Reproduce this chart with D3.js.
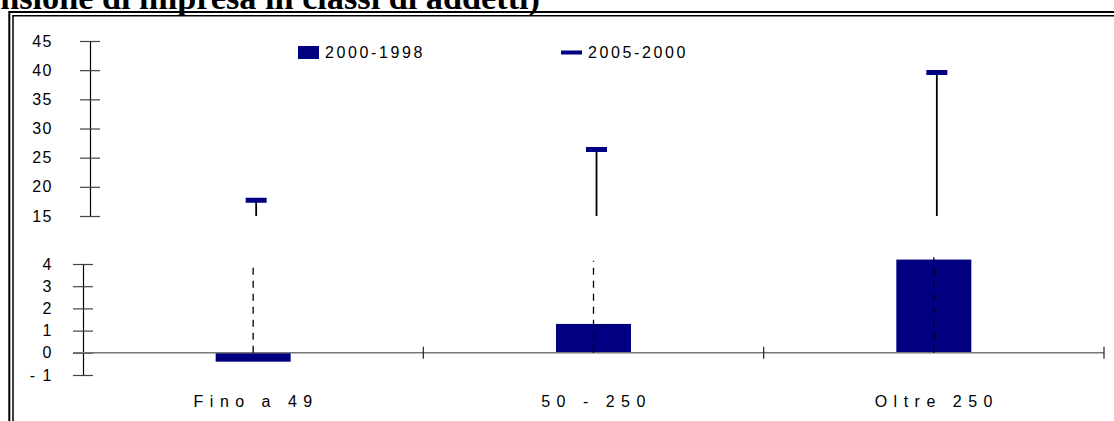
<!DOCTYPE html>
<html>
<head>
<meta charset="utf-8">
<title>Dimensione di impresa</title>
<script src="https://cdn.jsdelivr.net/npm/d3@7"></script>
<style>
  html, body { margin: 0; background: #fff; overflow: hidden; }
  svg { display: block; }
</style>
</head>
<body>
<script>
    var categories = ["Fino a 49", "50 - 250", "Oltre 250"];
    var serie9800 = [-0.4, 1.3, 4.2];     // 2000-1998, bars (lower panel)
    var serie0500 = [17.7, 26.4, 39.6];   // 2005-2000, markers (upper panel)
    var seriesNames = ["2000-1998", "2005-2000"];
    var upperTicks = [15, 20, 25, 30, 35, 40, 45];
    var lowerTicks = [-1, 0, 1, 2, 3, 4];
    var titleText = "(dimensione di impresa in classi di addetti)";

    var width = 1114, height = 421;
    var navy = "#000080";

    var svg = d3.select("body").append("svg")
        .attr("width", width)
        .attr("height", height);

    // title, partly cut off on the left and top
    var title = svg.append("text")
        .attr("font-family", "'Liberation Serif', 'Times New Roman', serif")
        .attr("font-weight", "bold")
        .attr("font-size", 24)
        .attr("fill", "#000")
        .text("nsione di impresa in classi di addetti)");
    var w = title.node().getComputedTextLength();
    var fs = 24 * 540 / w;
    title.attr("font-size", fs).text(titleText)
        .attr("text-anchor", "end")
        .attr("x", 540)
        .attr("y", 9);

    // double frame: only top and left edges are in view
    var frame = svg.append("g").attr("fill", "none").attr("stroke", "#000");
    frame.append("path").attr("d", "M9.3," + height + "V12H" + width).attr("stroke-width", 2);
    frame.append("path").attr("d", "M13," + height + "V15.8H" + width).attr("stroke-width", 1.5);

    // scales
    var x = d3.scaleBand().domain(categories).range([83, 1104]).paddingInner(0).paddingOuter(0);
    var yLow = d3.scaleLinear().domain([-1, 4]).range([375, 264]);
    var yUp = d3.scaleLinear().domain([15, 45]).range([216, 41]);
    var lowTop = 4.0;

    var labelFont = "Arial, 'Liberation Sans', sans-serif";

    function drawAxis(scale, ticks, xpos) {
        var g = svg.append("g")
            .attr("transform", "translate(" + xpos + ",0)")
            .call(d3.axisLeft(scale).tickValues(ticks).tickSize(20).tickSizeOuter(0)
                .tickFormat(function(d){ return d < 0 ? "- " + (-d) : d; }));
        g.select(".domain").attr("stroke", "#000").attr("stroke-width", 1.2);
        g.selectAll(".tick line").attr("x1", 10).attr("x2", -10)
            .attr("stroke", "#444").attr("stroke-width", 1.2);
        g.selectAll(".tick text")
            .attr("x", 53 - xpos)
            .attr("font-family", labelFont)
            .attr("font-size", 16)
            .attr("letter-spacing", 1.5)
            .attr("fill", "#000");
        return g;
    }
    drawAxis(yUp, upperTicks, 90);
    drawAxis(yLow, lowerTicks, 83);

    // bars 2000-1998
    svg.selectAll("rect.bar").data(serie9800).enter().append("rect")
        .attr("class", "bar")
        .attr("x", function(d, i){ return x(categories[i]) + x.bandwidth() / 2 - 37.5; })
        .attr("width", 75)
        .attr("y", function(d){ return yLow(Math.max(0, d)); })
        .attr("height", function(d){ return Math.abs(yLow(d) - yLow(0)); })
        .attr("fill", navy);

    // zero line with category ticks
    svg.append("line")
        .attr("x1", 73).attr("x2", 1104)
        .attr("y1", yLow(0)).attr("y2", yLow(0))
        .attr("stroke", "#777").attr("stroke-width", 1.5);
    svg.selectAll("line.ctick").data(categories).enter().append("line")
        .attr("class", "ctick")
        .attr("x1", function(d){ return x(d) + x.bandwidth(); })
        .attr("x2", function(d){ return x(d) + x.bandwidth(); })
        .attr("y1", yLow(0) - 6).attr("y2", yLow(0) + 6)
        .attr("stroke", "#222").attr("stroke-width", 1.2);

    // broken part of the 2005-2000 drops: dashed in lower panel
    svg.selectAll("line.dash").data(serie0500).enter().append("line")
        .attr("class", "dash")
        .attr("x1", function(d, i){ return x(categories[i]) + x.bandwidth() / 2; })
        .attr("x2", function(d, i){ return x(categories[i]) + x.bandwidth() / 2; })
        .attr("y1", yLow(0)).attr("y2", function(d, i){ return yLow(lowTop + 0.15 * i); })
        .attr("stroke", "#000").attr("stroke-width", 1.3)
        .attr("stroke-dasharray", "7,6");

    // solid part in upper panel
    svg.selectAll("line.drop").data(serie0500).enter().append("line")
        .attr("class", "drop")
        .attr("x1", function(d, i){ return x(categories[i]) + x.bandwidth() / 2 + 3; })
        .attr("x2", function(d, i){ return x(categories[i]) + x.bandwidth() / 2 + 3; })
        .attr("y1", yUp(15)).attr("y2", function(d){ return yUp(d); })
        .attr("stroke", "#000").attr("stroke-width", 1.8);

    svg.selectAll("rect.mark").data(serie0500).enter().append("rect")
        .attr("class", "mark")
        .attr("x", function(d, i){ return x(categories[i]) + x.bandwidth() / 2 + 3 - 10.5; })
        .attr("width", 21)
        .attr("y", function(d){ return yUp(d) - 2.5; })
        .attr("height", 5)
        .attr("fill", navy);

    // category labels
    svg.selectAll("text.cat").data(categories).enter().append("text")
        .attr("class", "cat")
        .attr("x", function(d){ return x(d) + x.bandwidth() / 2 + 3; })
        .attr("y", 407)
        .attr("text-anchor", "middle")
        .attr("font-family", labelFont)
        .attr("font-size", 16)
        .attr("letter-spacing", 6.5)
        .attr("fill", "#000")
        .text(function(d){ return d; });

    // legend
    var legend = svg.append("g");
    legend.append("rect").attr("x", 298).attr("y", 46).attr("width", 21).attr("height", 13).attr("fill", navy);
    legend.append("rect").attr("x", 561).attr("y", 50.5).attr("width", 21).attr("height", 4).attr("fill", navy);
    legend.selectAll("text").data(seriesNames).enter().append("text")
        .attr("x", function(d, i){ return i === 0 ? 325 : 588; })
        .attr("y", 58)
        .attr("font-family", labelFont)
        .attr("font-size", 16)
        .attr("letter-spacing", 2.6)
        .attr("fill", "#000")
        .text(function(d){ return d; });
</script>
</body>
</html>
